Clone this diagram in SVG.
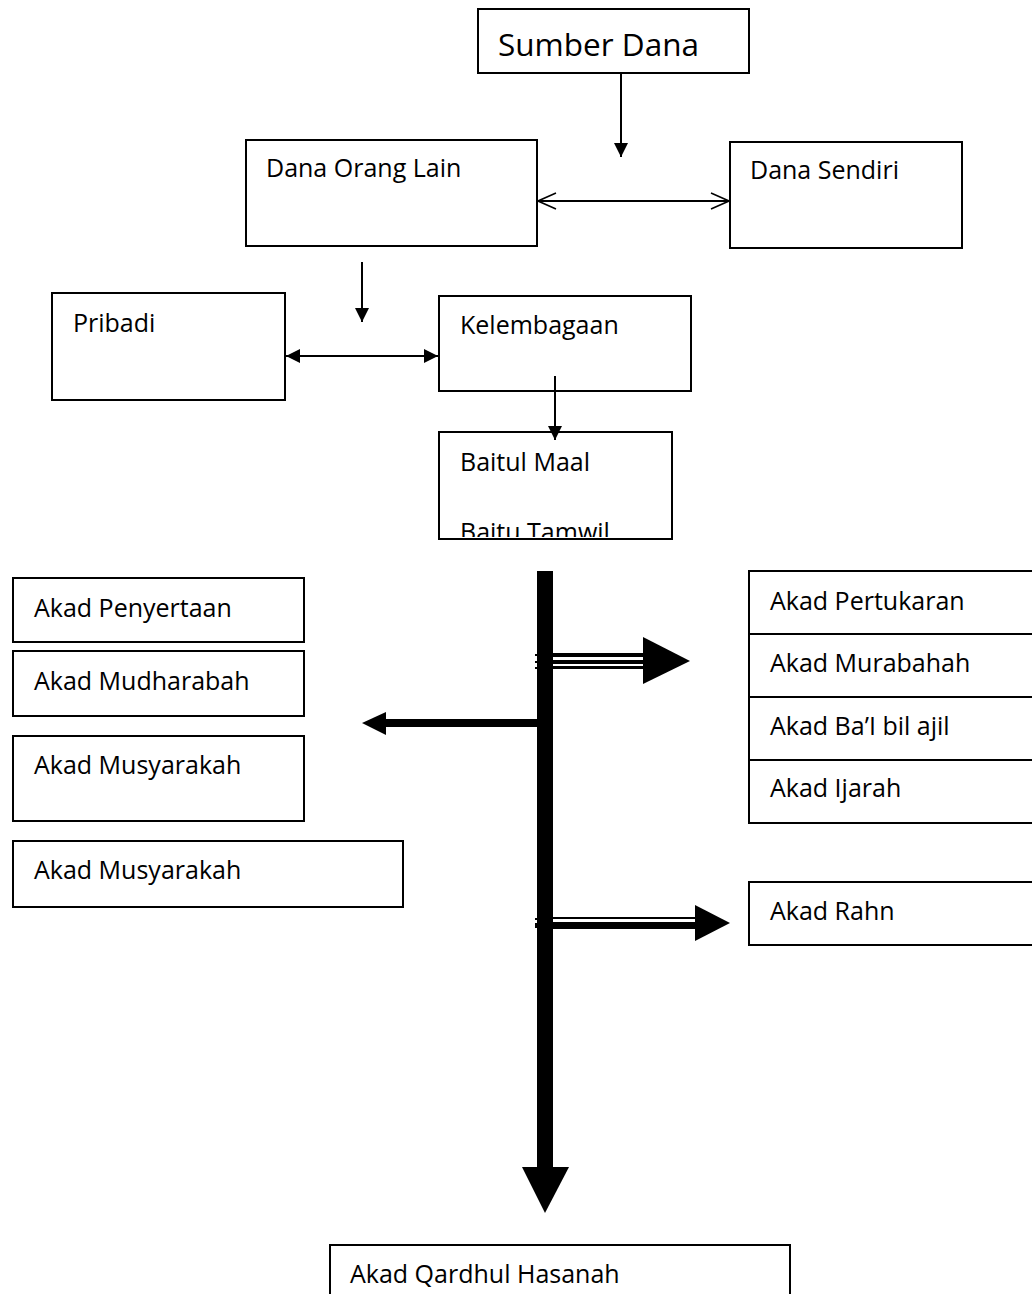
<svg xmlns="http://www.w3.org/2000/svg" width="1032" height="1294" viewBox="0 0 1032 1294">
<defs>
<style>
.box{fill:#fff;stroke:#000;stroke-width:2}
.t{font-family:"Open Sans","Liberation Sans",sans-serif;font-size:25px;fill:#000}
.big{font-size:31.5px}
.ln{stroke:#000;stroke-width:2;fill:none}
</style>
<marker id="fa" viewBox="0 0 10 10" refX="10" refY="5" markerWidth="14" markerHeight="14" markerUnits="userSpaceOnUse" orient="auto-start-reverse"><path d="M0,0 L10,5 L0,10 Z" fill="#000"/></marker>
<marker id="oa" viewBox="0 0 20 20" refX="19" refY="10" markerWidth="20" markerHeight="20" markerUnits="userSpaceOnUse" orient="auto-start-reverse"><path d="M1,2 L19,10 L1,18" fill="none" stroke="#000" stroke-width="1.5"/></marker>
<clipPath id="bm"><rect x="440" y="433" width="231" height="104"/></clipPath>
</defs>
<rect width="1032" height="1294" fill="#fff"/>

<g id="sumber-dana"><rect class="box" x="478" y="9" width="271" height="64"/><text class="t big" x="498" y="56">Sumber Dana</text></g>
<g id="dana-orang-lain"><rect class="box" x="246" y="140" width="291" height="106"/><text class="t" x="266" y="177">Dana Orang Lain</text></g>
<g id="dana-sendiri"><rect class="box" x="730" y="142" width="232" height="106"/><text class="t" x="750" y="179">Dana Sendiri</text></g>
<g id="pribadi"><rect class="box" x="52" y="293" width="233" height="107"/><text class="t" x="73" y="332">Pribadi</text></g>
<g id="kelembagaan"><rect class="box" x="439" y="296" width="252" height="95"/><text class="t" x="460" y="334">Kelembagaan</text></g>
<g id="baitul-maal"><rect class="box" x="439" y="432" width="233" height="107"/><text class="t" x="460" y="471">Baitul Maal</text><text class="t" x="460" y="541" clip-path="url(#bm)">Baitu Tamwil</text></g>

<g id="akad-penyertaan"><rect class="box" x="13" y="578" width="291" height="64"/><text class="t" x="34" y="617">Akad Penyertaan</text></g>
<g id="akad-mudharabah"><rect class="box" x="13" y="651" width="291" height="65"/><text class="t" x="34" y="690">Akad Mudharabah</text></g>
<g id="akad-musyarakah-1"><rect class="box" x="13" y="736" width="291" height="85"/><text class="t" x="34" y="774">Akad Musyarakah</text></g>
<g id="akad-musyarakah-2"><rect class="box" x="13" y="841" width="390" height="66"/><text class="t" x="34" y="879">Akad Musyarakah</text></g>

<g id="akad-pertukaran"><rect class="box" x="749" y="571" width="290" height="63"/><text class="t" x="770" y="610">Akad Pertukaran</text></g>
<g id="akad-murabahah"><rect class="box" x="749" y="634" width="290" height="63"/><text class="t" x="770" y="672">Akad Murabahah</text></g>
<g id="akad-bai-bil-ajil"><rect class="box" x="749" y="697" width="290" height="63"/><text class="t" x="770" y="735">Akad Ba’I bil ajil</text></g>
<g id="akad-ijarah"><rect class="box" x="749" y="760" width="290" height="63"/><text class="t" x="770" y="797">Akad Ijarah</text></g>
<g id="akad-rahn"><rect class="box" x="749" y="882" width="290" height="63"/><text class="t" x="770" y="920">Akad Rahn</text></g>
<g id="akad-qardhul-hasanah"><rect class="box" x="330" y="1245" width="460" height="60"/><text class="t" x="350" y="1283">Akad Qardhul Hasanah</text></g>

<g id="connectors">
<line class="ln" x1="621" y1="73" x2="621" y2="157" marker-end="url(#fa)"/>
<line class="ln" x1="538" y1="201" x2="729" y2="201" marker-start="url(#oa)" marker-end="url(#oa)"/>
<line class="ln" x1="362" y1="262" x2="362" y2="322" marker-end="url(#fa)"/>
<line class="ln" x1="286" y1="356" x2="438" y2="356" marker-start="url(#fa)" marker-end="url(#fa)"/>
<line class="ln" x1="555" y1="376" x2="555" y2="440" marker-end="url(#fa)"/>

<rect x="537" y="571" width="16" height="598" fill="#000"/>
<polygon points="522,1167 569,1167 545,1213" fill="#000"/>

<rect x="375" y="719" width="162" height="8" fill="#000"/>
<polygon points="386,712 386,735 362,723" fill="#000"/>

<rect x="553" y="653" width="90" height="4" fill="#000"/>
<rect x="553" y="660" width="90" height="4" fill="#000"/>
<rect x="553" y="666" width="90" height="3" fill="#000"/>
<polygon points="643,637 643,684 690,661" fill="#000"/>
<rect x="535" y="654" width="2" height="2" fill="#000"/>
<rect x="535" y="661" width="2" height="2" fill="#000"/>
<rect x="535" y="667" width="2" height="2" fill="#000"/>

<rect x="553" y="917" width="142" height="2" fill="#000"/>
<rect x="553" y="922" width="142" height="7" fill="#000"/>
<polygon points="695,905 695,941 730,923" fill="#000"/>
<rect x="535" y="918" width="2" height="2" fill="#000"/>
<rect x="535" y="923" width="2" height="5" fill="#000"/>
</g>
</svg>
